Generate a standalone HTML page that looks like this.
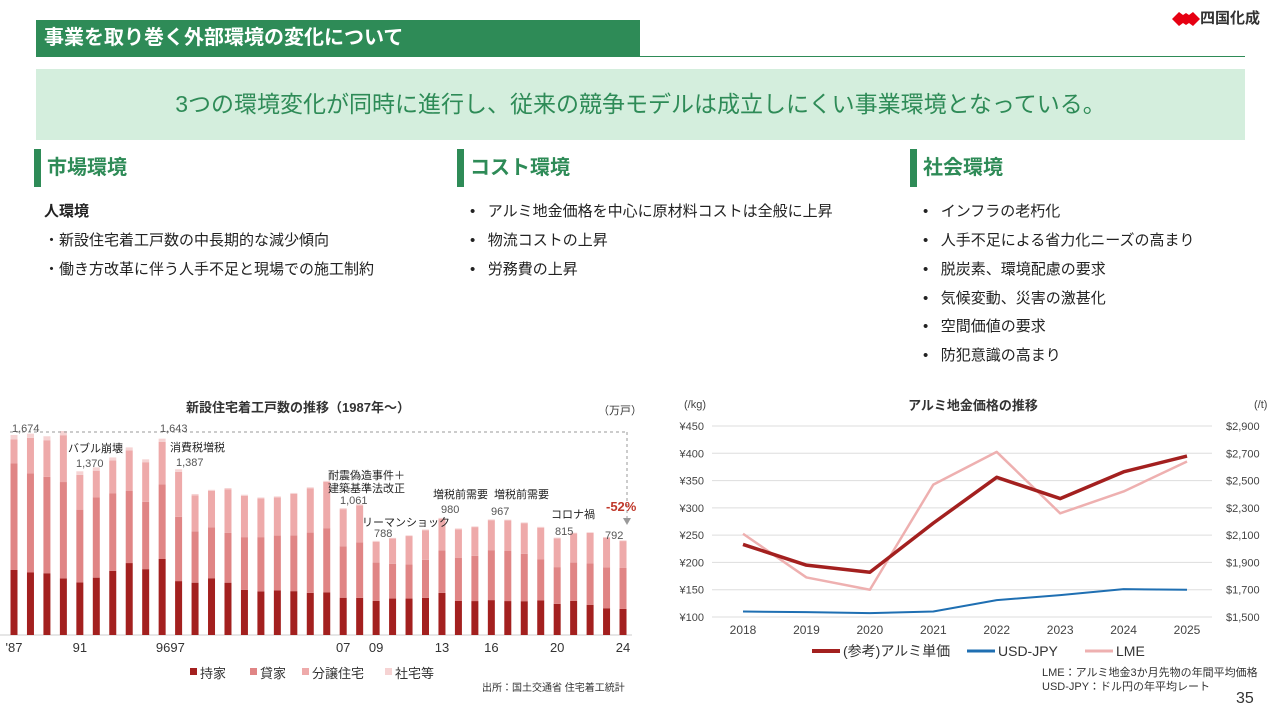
<!DOCTYPE html>
<html><head><meta charset="utf-8">
<style>
body{margin:0;width:1280px;height:720px;background:#fff;position:relative;overflow:hidden;font-family:"Liberation Sans","Noto Sans CJK JP",sans-serif;color:#222}
.a{position:absolute;white-space:nowrap}
.sec{position:absolute;top:149px;height:38px;border-left:7px solid #2e8b57;padding-left:6px;font-size:20px;font-weight:bold;color:#2e8b57;line-height:38px}
.t{position:absolute;font-size:15px;white-space:nowrap;color:#222}
</style></head><body>
<div class="a" style="left:36px;top:20px;width:604px;height:37px;background:#2e8b57;color:#fff;font-size:20px;font-weight:bold;line-height:37px;padding-left:8px;box-sizing:border-box">事業を取り巻く外部環境の変化について</div>
<div class="a" style="left:640px;top:56px;width:605px;height:1px;background:#2e8b57"></div>
<div class="a" style="left:1172px;top:9px;height:20px;font-size:15px;font-weight:bold;color:#333;line-height:20px">
<svg width="28" height="16" style="vertical-align:middle" viewBox="0 0 28 16"><polygon points="0,8 7,1 11,4 14,2 17,4 21,1 28,8 21,15 17,12 14,14 11,12 7,15" fill="#e60012"/></svg>四国化成</div>
<div class="a" style="left:36px;top:69px;width:1209px;height:71px;background:#d4eedd;color:#2e8b57;font-size:23px;line-height:71px;text-align:center">3つの環境変化が同時に進行し、従来の競争モデルは成立しにくい事業環境となっている。</div>
<div class="sec" style="left:34px">市場環境</div>
<div class="sec" style="left:457px">コスト環境</div>
<div class="sec" style="left:910px">社会環境</div>
<div class="t" style="left:44px;top:200px;font-weight:bold">人環境</div>
<div class="t" style="left:44px;top:229px">・新設住宅着工戸数の中長期的な減少傾向</div>
<div class="t" style="left:44px;top:258px">・働き方改革に伴う人手不足と現場での施工制約</div>
<div class="t" style="left:470px;top:200px">•&nbsp;&nbsp;&nbsp;アルミ地金価格を中心に原材料コストは全般に上昇</div>
<div class="t" style="left:470px;top:229px">•&nbsp;&nbsp;&nbsp;物流コストの上昇</div>
<div class="t" style="left:470px;top:258px">•&nbsp;&nbsp;&nbsp;労務費の上昇</div>
<div class="t" style="left:923px;top:200px">•&nbsp;&nbsp;&nbsp;インフラの老朽化</div>
<div class="t" style="left:923px;top:229px">•&nbsp;&nbsp;&nbsp;人手不足による省力化ニーズの高まり</div>
<div class="t" style="left:923px;top:258px">•&nbsp;&nbsp;&nbsp;脱炭素、環境配慮の要求</div>
<div class="t" style="left:923px;top:287px">•&nbsp;&nbsp;&nbsp;気候変動、災害の激甚化</div>
<div class="t" style="left:923px;top:315px">•&nbsp;&nbsp;&nbsp;空間価値の要求</div>
<div class="t" style="left:923px;top:344px">•&nbsp;&nbsp;&nbsp;防犯意識の高まり</div>
<div class="a" style="left:1236px;top:690px;font-size:16px;color:#333">35</div>

<svg id="c1" class="a" style="left:0;top:390px" width="650" height="330"></svg>
<svg id="c2" class="a" style="left:660px;top:390px" width="620" height="310"></svg>

<script>
const years=[];for(let y=1987;y<=2024;y++)years.push(y);
const totals=[1674,1685,1663,1707,1370,1403,1486,1570,1470,1643,1387,1180,1215,1230,1174,1151,1160,1189,1236,1290,1061,1094,788,813,834,883,980,892,909,967,965,942,905,815,856,860,820,792];
const owned=[544,523,517,474,440,480,537,602,551,636,451,438,475,438,377,365,373,367,353,356,312,311,285,305,305,311,353,285,284,292,284,283,289,261,285,253,224,218];
const rental=[891,829,806,806,609,671,647,603,563,624,538,430,427,418,442,454,459,467,504,538,431,465,321,291,286,318,356,362,379,418,419,396,343,307,321,346,343,343];
const company=[36,35,33,35,30,28,26,25,24,26,22,12,10,10,9,8,8,8,8,9,8,9,8,6,6,6,7,7,6,6,6,6,7,6,6,6,6,6];
const labelsX=["'87","91","9697","07","09","13","16","20","24"];
const labelsYr=[1987,1991,1996.5,2007,2009,2013,2016,2020,2024];
const NS='http://www.w3.org/2000/svg';
function mk(svg,tag,at,txt){const e=document.createElementNS(NS,tag);for(const k in at)e.setAttribute(k,at[k]);if(txt!==undefined)e.textContent=txt;svg.appendChild(e);return e;}
(function(){
const s=document.getElementById('c1');const top=390;
const xs=y=>14+(y-1987)*16.46;const ys=v=>635-top-v*0.1195;
const cols=['#a3201f','#e08585','#eeaaaa','#f6d3d3'];
mk(s,'line',{x1:0,x2:632,y1:ys(0),y2:ys(0),stroke:'#ccc'});
years.forEach((y,i)=>{const parts=[owned[i],rental[i],totals[i]-owned[i]-rental[i]-company[i],company[i]];let acc=0;
parts.forEach((p,j)=>{const r=mk(s,'rect',{x:xs(y)-3.5,y:ys(acc+p),width:7,height:p*0.1195,fill:cols[j]});

acc+=p;});});
labelsX.forEach((l,i)=>{const t=mk(s,'text',{x:xs(labelsYr[i]),y:262,'font-size':13,fill:'#333','text-anchor':'middle'},l);

});
mk(s,'line',{x1:10,x2:627,y1:432-top,y2:432-top,stroke:'#999','stroke-dasharray':'3,3'});
mk(s,'line',{x1:627,x2:627,y1:432-top,y2:520-top,stroke:'#999','stroke-dasharray':'3,3'});
mk(s,'polygon',{points:`623,${518-top} 631,${518-top} 627,${525-top}`,fill:'#999'});
const ann=[[12,432,'1,674','#555',11],[68,452,'バブル崩壊','#222',11],[76,467,'1,370','#555',11],[160,432,'1,643','#555',11],[170,451,'消費税増税','#222',11],[176,466,'1,387','#555',11],[328,479,'耐震偽造事件＋','#222',11],[328,492,'建築基準法改正','#222',11],[340,504,'1,061','#555',11],[362,526,'リーマンショック','#222',11],[374,537,'788','#555',11],[433,498,'増税前需要','#222',11],[441,513,'980','#555',11],[494,498,'増税前需要','#222',11],[491,515,'967','#555',11],[551,518,'コロナ禍','#222',11],[555,535,'815','#555',11],[606,511,'-52%','#c0392b',13],[605,539,'792','#555',11]];
ann.forEach(a=>{const t=mk(s,'text',{x:a[0],y:a[1]-top,'font-size':a[4],fill:a[3],'font-weight':a[2]=='-52%'?'bold':'normal'},a[2]);

});
mk(s,'text',{x:298,y:412-top,'font-size':13,'font-weight':'bold','text-anchor':'middle',fill:'#333'},'新設住宅着工戸数の推移（1987年～）');
mk(s,'text',{x:598,y:414-top,'font-size':11,fill:'#333'},'（万戸）');
const leg=[['持家',190],['貸家',250],['分譲住宅',302],['社宅等',385]];
leg.forEach((l,i)=>{const g=mk(s,'g',{});
mk(g,'rect',{x:l[1],y:668-top,width:7,height:7,fill:cols[i]});mk(g,'text',{x:l[1]+10,y:678-top,'font-size':13,fill:'#333'},l[0]);});
mk(s,'text',{x:482,y:691-top,'font-size':10,fill:'#333'},'出所：国土交通省 住宅着工統計');
})();

const aYears=[2018,2019,2020,2021,2022,2023,2024,2025];
const aluminum=[233,195,182,272,356,317,366,395];
const usdjpy=[110,109,107,110,131,140,151,150];
const lme=[2110,1790,1700,2470,2710,2260,2420,2640];
const leftTicks=[100,150,200,250,300,350,400,450];
const rightTicks=[1500,1700,1900,2100,2300,2500,2700,2900];
(function(){
const s=document.getElementById('c2');const L=660,T=390;
const x=i=>743-L+i*63.43;const yl=v=>617-T-(v-100)*(191/350);const yr=v=>617-T-(v-1500)*(191/1400);
leftTicks.forEach((v,i)=>{mk(s,'line',{x1:52,x2:552,y1:yl(v),y2:yl(v),stroke:'#ddd'});
const t=mk(s,'text',{x:44,y:yl(v)+4,'font-size':11,fill:'#444','text-anchor':'end'},'¥'+v);
const r=mk(s,'text',{x:566,y:yr(rightTicks[i])+4,'font-size':11,fill:'#444'},'$'+rightTicks[i].toLocaleString('en-US'));});
aYears.forEach((y,i)=>{const t=mk(s,'text',{x:x(i),y:244,'font-size':12,fill:'#444','text-anchor':'middle'},y);});
const line=(d,f,c,w,n)=>{const p=mk(s,'polyline',{points:d.map((v,i)=>x(i)+','+f(v)).join(' '),fill:'none',stroke:c,'stroke-width':w,'stroke-linejoin':'round'});};
line(lme,yr,'#eeb0b0',2.5,'lme-line');
line(usdjpy,yl,'#1f6fb2',2,'usdjpy-line');
line(aluminum,yl,'#a3201f',3.5,'aluminum-line');
mk(s,'text',{x:313,y:20,'font-size':13,'font-weight':'bold','text-anchor':'middle',fill:'#333'},'アルミ地金価格の推移');
mk(s,'text',{x:24,y:18,'font-size':11,fill:'#444'},'(/kg)');
mk(s,'text',{x:594,y:18,'font-size':11,fill:'#444'},'(/t)');
const leg=[['(参考)アルミ単価',152,'#a3201f',4],['USD-JPY',307,'#1f6fb2',3],['LME',425,'#eeb0b0',3]];
leg.forEach(l=>{const g=mk(s,'g',{});
mk(g,'line',{x1:l[1],x2:l[1]+28,y1:261,y2:261,stroke:l[2],'stroke-width':l[3]});mk(g,'text',{x:l[1]+31,y:266,'font-size':14,fill:'#333'},l[0]);});
mk(s,'text',{x:382,y:286,'font-size':11,fill:'#333'},'LME：アルミ地金3か月先物の年間平均価格');
mk(s,'text',{x:382,y:300,'font-size':11,fill:'#333'},'USD-JPY：ドル円の年平均レート');
})();
</script>
</body></html>
